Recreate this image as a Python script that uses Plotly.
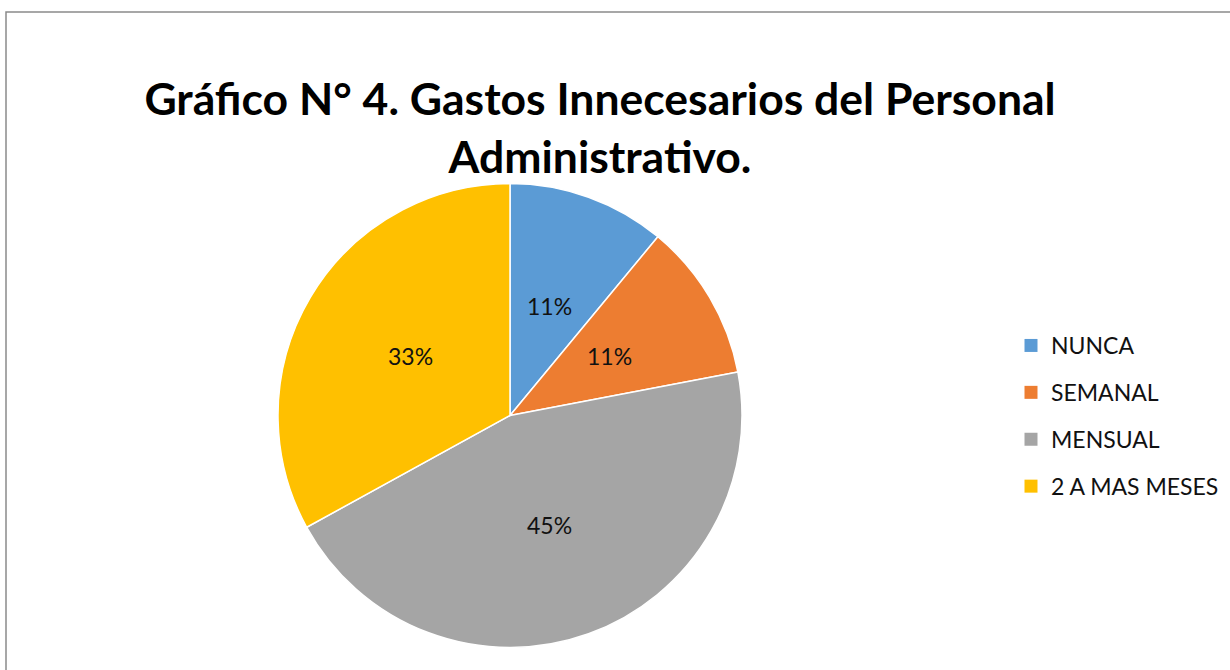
import math
import plotly.graph_objects as go

categories = ["NUNCA", "SEMANAL", "MENSUAL", "2 A MAS MESES"]
values = [11, 11, 45, 33]
colors = ["#5B9BD5", "#ED7D31", "#A5A5A5", "#FFC000"]
title_text = "Gráfico N° 4. Gastos Innecesarios del Personal<br>Administrativo."

W, H = 1230, 670
dom_x = [278 / W, 742 / W]
dom_y = [22 / H, 487 / H]

fig = go.Figure()

fig.add_trace(go.Pie(
    labels=categories, values=values, sort=False, direction="clockwise",
    rotation=0, marker=dict(colors=colors, line=dict(color="white", width=1.5)),
    textinfo="none",
    domain=dict(x=dom_x, y=dom_y),
    showlegend=False, hoverinfo="label+percent",
))

# data labels placed at half radius along each slice's mid-angle
cx = (dom_x[0] + dom_x[1]) / 2 * W
cy = (1 - (dom_y[0] + dom_y[1]) / 2) * H
R = min((dom_x[1] - dom_x[0]) * W, (dom_y[1] - dom_y[0]) * H) / 2
total = sum(values)
cum = 0
annotations = []
for v in values:
    mid = (cum + v / 2) / total * 2 * math.pi
    cum += v
    px = cx + 0.5 * R * math.sin(mid)
    py = cy - 0.5 * R * math.cos(mid)
    annotations.append(dict(
        x=px / W, y=1 - py / H, xref="paper", yref="paper", showarrow=False,
        text=f"{round(v / total * 100)}%", xanchor="center", yanchor="middle",
        font=dict(family="Lato", size=23, color="#111111"),
    ))

for cat, col in zip(categories, colors):
    fig.add_trace(go.Scatter(
        x=[None], y=[None], mode="markers", name=cat, legendgroup=cat,
        marker=dict(symbol="square", size=13, color=col),
    ))

fig.update_layout(
    width=W, height=H, margin=dict(l=0, r=0, t=0, b=0),
    paper_bgcolor="white", plot_bgcolor="white",
    xaxis=dict(visible=False), yaxis=dict(visible=False),
    title=dict(text=title_text, x=600 / W, xanchor="center", y=1 - 115 / H, yanchor="top",
               font=dict(family="Lato", size=44.5, color="black", weight="bold")),
    legend=dict(x=1011 / W, xanchor="left", y=1 - 324 / H, yanchor="top",
                font=dict(family="Lato", size=23, color="#111111"),
                tracegroupgap=14, bgcolor="rgba(0,0,0,0)"),
    annotations=annotations,
    shapes=[dict(type="rect", xref="paper", yref="paper", x0=6 / W, x1=1.1, y0=-0.1, y1=1 - 12 / H,
                 line=dict(color="#8a8a8a", width=1.5), layer="below")],
)

fig.write_html("out.html", config={"displayModeBar": False},
               post_script="document.body.style.margin='0';")
